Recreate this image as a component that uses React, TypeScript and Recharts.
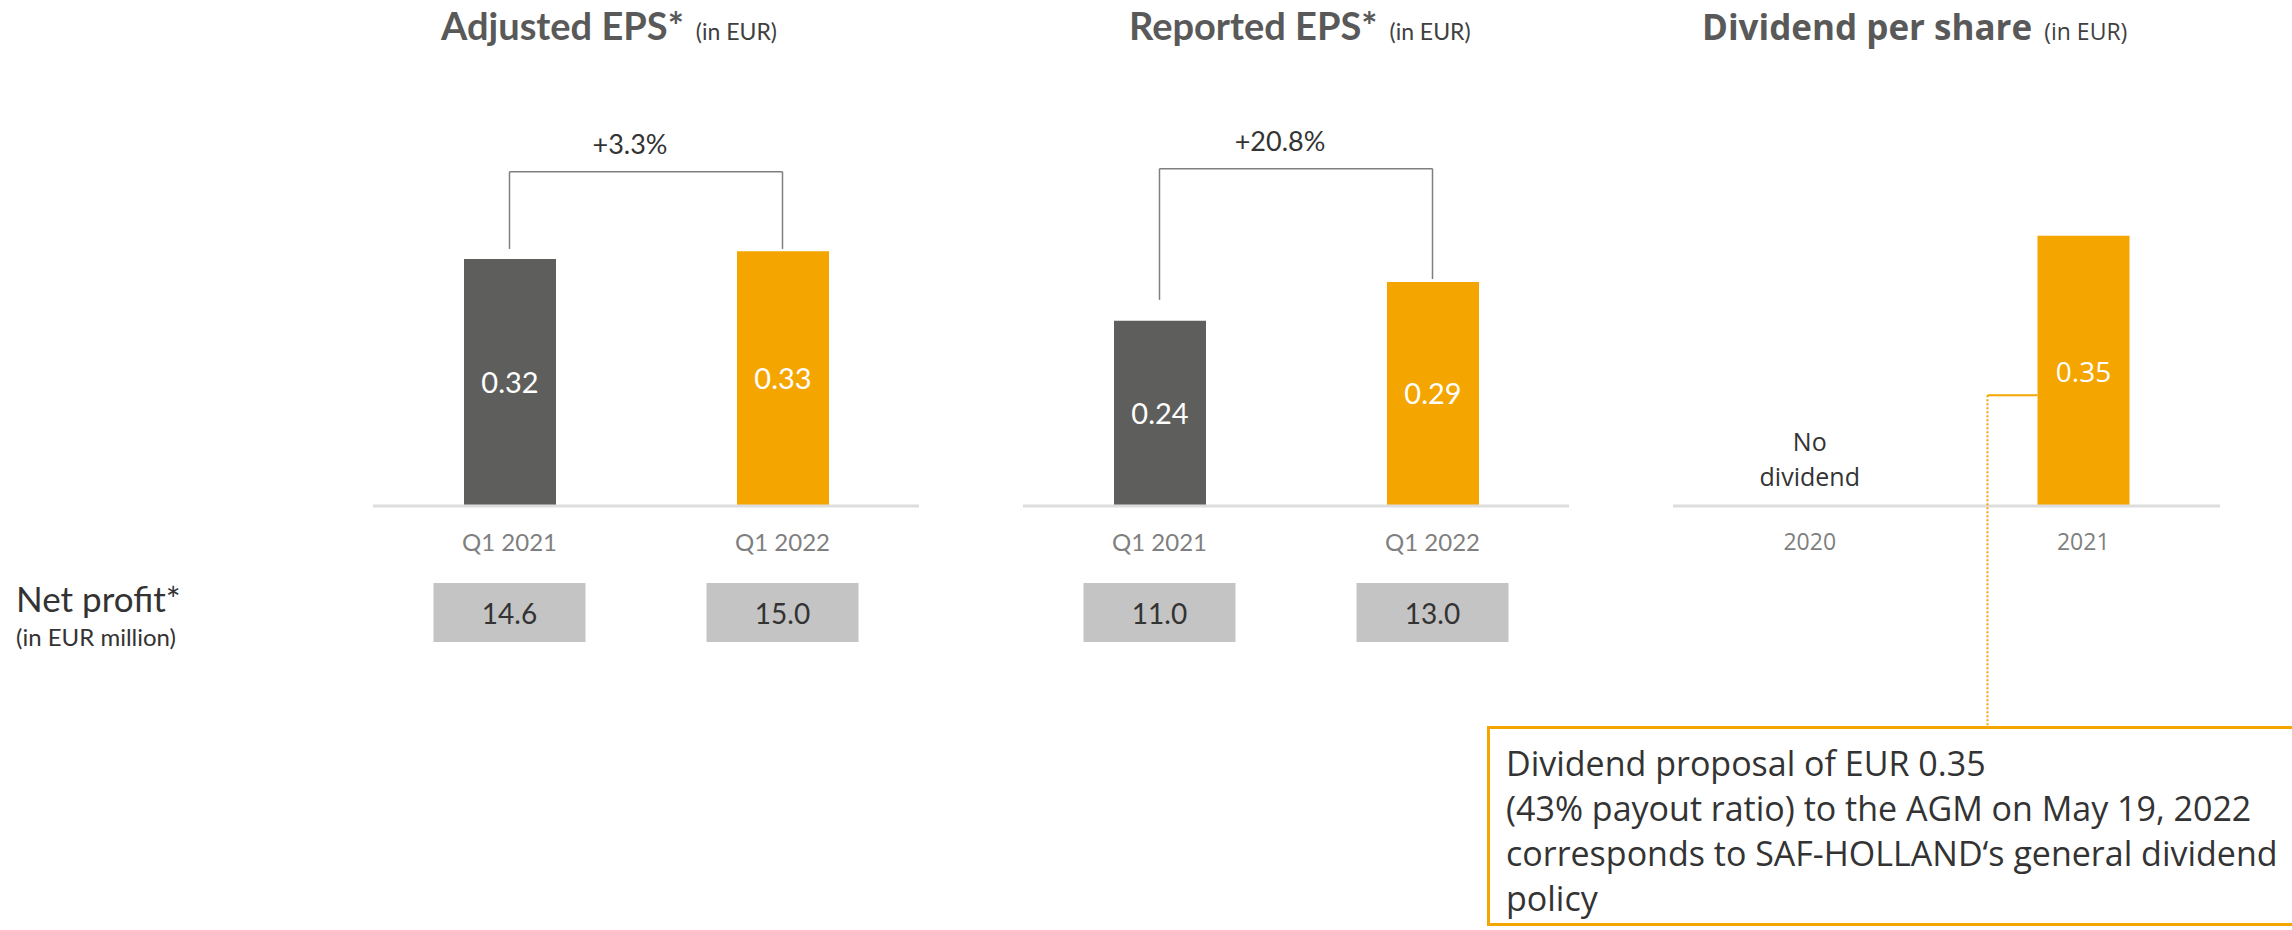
import React from 'react';
import { BarChart, Bar, XAxis, YAxis, ReferenceLine, LabelList, Cell } from 'recharts';

// data
const epsPeriods = ['Q1 2021', 'Q1 2022'];
const adjustedEps = [0.32, 0.33];
const reportedEps = [0.24, 0.29];
const adjustedNetProfit = ['14.6', '15.0'];
const reportedNetProfit = ['11.0', '13.0'];
const adjustedChange = '+3.3%';
const reportedChange = '+20.8%';
// bracket levels in EUR: [top, left end, right end]
const adjustedBracket = [0.433, 0.333, 0.333];
const reportedBracket = [0.437, 0.267, 0.294];
const dividendYears = ['2020', '2021'];
const dividendPerShare = [0, 0.35];
const noDividendNote = ['No', 'dividend'];
const calloutLines = [
  'Dividend proposal of EUR 0.35',
  '(43% payout ratio) to the AGM on May 19, 2022',
  'corresponds to SAF-HOLLAND\u2018s general dividend',
  'policy',
];

const DARK = '#5E5E5C';
const ORANGE = '#F5A500';
const BOX = '#C3C4C3';
const LATO = 'Lato, "Open Sans", sans-serif';
const OPEN = '"Open Sans", "Noto Sans", sans-serif';

const PLOT_H = 386;
const AXIS_H = 150;
const DOMAIN: [number, number] = [0, 0.5];

const toRows = (cats: string[], vals: number[]) => cats.map((c, i) => ({ name: c, value: vals[i] }));

const EpsTick = (props: any) => {
  const { x, y, payload, index, profits } = props;
  return (
    <g>
      <text x={x} y={y + 35} textAnchor="middle" dominantBaseline="central" fill="#7F7F7F" fontSize={24} fontFamily={LATO}>
        {payload.value}
      </text>
      <rect x={x - 76} y={y + 77} width={152} height={59} fill={BOX} />
      <text x={x} y={y + 107} textAnchor="middle" dominantBaseline="central" fill="#333333" fontSize={28} fontFamily={LATO}>
        {profits[index]}
      </text>
    </g>
  );
};

const EpsChart = ({ values, profits, bracket, change }: { values: number[]; profits: string[]; bracket: number[]; change: string }) => {
  const rows = toRows(epsPeriods, values);
  const line = { stroke: '#7F7F7F', strokeWidth: 1.5 };
  return (
    <BarChart width={546} height={PLOT_H + AXIS_H} data={rows} margin={{ top: 0, right: 0, bottom: 0, left: 0 }}>
      <YAxis hide domain={DOMAIN} />
      <XAxis
        dataKey="name"
        height={AXIS_H}
        tickLine={false}
        tickSize={0}
        tickMargin={0}
        axisLine={{ stroke: '#DDDDDD', strokeWidth: 3 }}
        interval={0}
        tick={(p: any) => <EpsTick {...p} profits={profits} />}
      />
      <Bar dataKey="value" barSize={92} isAnimationActive={false}>
        {rows.map((r, i) => (
          <Cell key={r.name} fill={i === 0 ? DARK : ORANGE} />
        ))}
        <LabelList dataKey="value" position="center" fill="#FFFFFF" fontSize={29} fontFamily={LATO} formatter={(v: any) => Number(v).toFixed(2)} />
      </Bar>
      <ReferenceLine segment={[{ x: epsPeriods[0], y: bracket[1] }, { x: epsPeriods[0], y: bracket[0] }]} {...line} />
      <ReferenceLine
        segment={[{ x: epsPeriods[0], y: bracket[0] }, { x: epsPeriods[1], y: bracket[0] }]}
        {...line}
        label={{ value: change, position: 'top', offset: 18, fill: '#333333', fontSize: 27, fontFamily: LATO, dx: -16 } as any}
      />
      <ReferenceLine segment={[{ x: epsPeriods[1], y: bracket[0] }, { x: epsPeriods[1], y: bracket[2] }]} {...line} />
    </BarChart>
  );
};

const DividendTick = (props: any) => {
  const { x, y, payload, index } = props;
  return (
    <g>
      <text x={x} y={y + 35} textAnchor="middle" dominantBaseline="central" fill="#7F7F7F" fontSize={23} fontFamily={OPEN}>
        {payload.value}
      </text>
      {!dividendPerShare[index] && (
        <text textAnchor="middle" fill="#333333" fontSize={25} fontFamily={OPEN}>
          <tspan x={x} y={y - 55}>{noDividendNote[0]}</tspan>
          <tspan x={x} y={y - 20}>{noDividendNote[1]}</tspan>
        </text>
      )}
    </g>
  );
};

const DividendLabel = (props: any) => {
  const { x, y, width, height, value } = props;
  if (!value) return null;
  const cx = x + width / 2;
  const base = y + height;
  const hookY = base - height * 0.41;
  const hookX = x - 50;
  return (
    <g>
      <text x={cx} y={y + height / 2} textAnchor="middle" dominantBaseline="central" fill="#FFFFFF" fontSize={28} fontFamily={OPEN}>
        {Number(value).toFixed(2)}
      </text>
      <line x1={x} y1={hookY} x2={hookX} y2={hookY} stroke={ORANGE} strokeWidth={2} />
      <line x1={hookX} y1={hookY} x2={hookX} y2={base + 220} stroke={ORANGE} strokeWidth={2} strokeDasharray="2 2" />
    </g>
  );
};

const DividendChart = () => {
  const rows = toRows(dividendYears, dividendPerShare);
  return (
    <BarChart width={547} height={810} data={rows} margin={{ top: 0, right: 0, bottom: 810 - PLOT_H - AXIS_H, left: 0 }}>
      <YAxis hide domain={DOMAIN} />
      <XAxis
        dataKey="name"
        height={AXIS_H}
        tickLine={false}
        tickSize={0}
        tickMargin={0}
        axisLine={{ stroke: '#DDDDDD', strokeWidth: 3 }}
        interval={0}
        tick={(p: any) => <DividendTick {...p} />}
      />
      <Bar dataKey="value" barSize={92} fill={ORANGE} isAnimationActive={false} label={(p: any) => <DividendLabel {...p} />} />
    </BarChart>
  );
};

const App = () => (
  <div style={{ position: 'absolute', left: 0, top: 0, width: 2292, height: 930, overflow: 'hidden', background: '#FFFFFF' }}>
    <svg width={2292} height={930} style={{ position: 'absolute', left: 0, top: 0 }}>
      <text x={441} y={40} fill="#595959" fontFamily={LATO}>
        <tspan fontSize={38} fontWeight={700}>Adjusted EPS*</tspan>
        <tspan fontSize={23} dx={12} fill="#404040">(in EUR)</tspan>
      </text>
      <text x={1129} y={40} fill="#595959" fontFamily={LATO}>
        <tspan fontSize={38} fontWeight={700}>Reported EPS*</tspan>
        <tspan fontSize={23} dx={12} fill="#404040">(in EUR)</tspan>
      </text>
      <text x={1702} y={40} fill="#595959" fontFamily={OPEN}>
        <tspan fontSize={35} fontWeight={700}>Dividend per share</tspan>
        <tspan fontSize={23} dx={12} fill="#404040">(in EUR)</tspan>
      </text>
      <text x={16} y={612} fill="#333333" fontFamily={LATO} fontSize={35}>Net profit*</text>
      <text x={16} y={646} fill="#333333" fontFamily={LATO} fontSize={24}>(in EUR million)</text>
    </svg>
    <div style={{ position: 'absolute', left: 373, top: 120 }}>
      <EpsChart values={adjustedEps} profits={adjustedNetProfit} bracket={adjustedBracket} change={adjustedChange} />
    </div>
    <div style={{ position: 'absolute', left: 1023, top: 120 }}>
      <EpsChart values={reportedEps} profits={reportedNetProfit} bracket={reportedBracket} change={reportedChange} />
    </div>
    <div style={{ position: 'absolute', left: 1673, top: 120 }}>
      <DividendChart />
    </div>
    <div
      style={{
        position: 'absolute',
        left: 1487,
        top: 726,
        width: 900,
        height: 200,
        border: `3px solid ${ORANGE}`,
        padding: '12px 16px',
        boxSizing: 'border-box',
        fontFamily: OPEN,
        fontSize: 34,
        lineHeight: '45px',
        color: '#333333',
      }}
    >
      {calloutLines.map((l) => (
        <div key={l} style={{ whiteSpace: 'nowrap' }}>{l}</div>
      ))}
    </div>
  </div>
);

export default App;
